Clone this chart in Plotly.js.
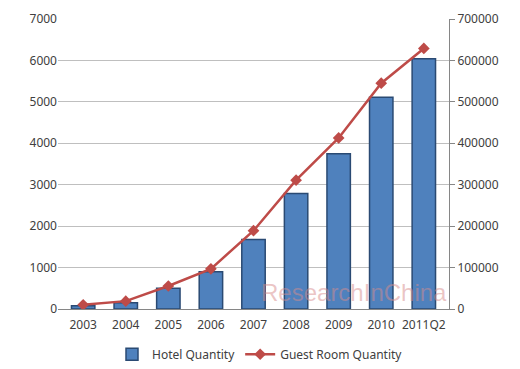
<!DOCTYPE html>
<html><head><meta charset="utf-8">
<script src="https://cdn.plot.ly/plotly-3.0.1.min.js"></script>
<style>html,body{margin:0;padding:0;background:#fff}#c{width:520px;height:369px}</style>
</head><body><div id="c"></div>
<script>
const categories = ["2003","2004","2005","2006","2007","2008","2009","2010","2011Q2"];
const hotelQuantity = [80, 150, 500, 900, 1680, 2790, 3750, 5110, 6040];
const guestRoomQuantity = [10000, 19000, 55500, 97000, 189000, 311000, 413000, 545000, 629000];

const font = {family: "Noto Sans, Open Sans, sans-serif", size: 12, color: "#404040"};
const data = [
  {type: "bar", x: categories, y: hotelQuantity, name: "Hotel Quantity",
   marker: {color: "#4f81bd", line: {color: "#2a4a73", width: 1.5}}},
  {type: "scatter", mode: "lines+markers", x: categories, y: guestRoomQuantity, yaxis: "y2",
   name: "Guest Room Quantity", line: {color: "#be4b48", width: 2.5},
   marker: {symbol: "diamond", size: 9, color: "#be4b48"}}
];
const layout = {
  width: 520, height: 369,
  margin: {l: 58, r: 71, t: 19, b: 60},
  paper_bgcolor: "#fff", plot_bgcolor: "#fff",
  font: font, bargap: 0.45,
  showlegend: true,
  legend: {orientation: "h", x: 0.5, xanchor: "center", xref: "container",
           y: 0.04, yanchor: "middle", yref: "container", font: font, itemwidth: 30},
  xaxis: {type: "category", showline: true, linecolor: "#868686", ticks: "outside", ticklen: 5,
          tickcolor: "rgba(0,0,0,0)", tickfont: font, showgrid: false, automargin: false},
  yaxis: {range: [0, 7000], dtick: 1000, showgrid: true, gridcolor: "#bfbfbf", gridwidth: 1,
          showline: false, zeroline: false, tickfont: font, ticklen: 0, automargin: false},
  yaxis2: {overlaying: "y", side: "right", range: [0, 700000], dtick: 100000, showgrid: false,
           showline: true, linecolor: "#868686", ticks: "outside", ticklen: 5, tickcolor: "#868686",
           zeroline: false, tickfont: font, tickformat: "d", automargin: false},
  annotations: [{text: "ResearchInChina", x: 1.0, y: 0.005, xref: "paper", yref: "paper",
                 xanchor: "right", yanchor: "bottom", showarrow: false,
                 font: {family: "Liberation Sans Narrow, Liberation Sans, sans-serif", size: 24, color: "rgba(215,140,140,0.5)"}}]
};
Plotly.newPlot("c", data, layout, {displayModeBar: false, staticPlot: true});
</script></body></html>
